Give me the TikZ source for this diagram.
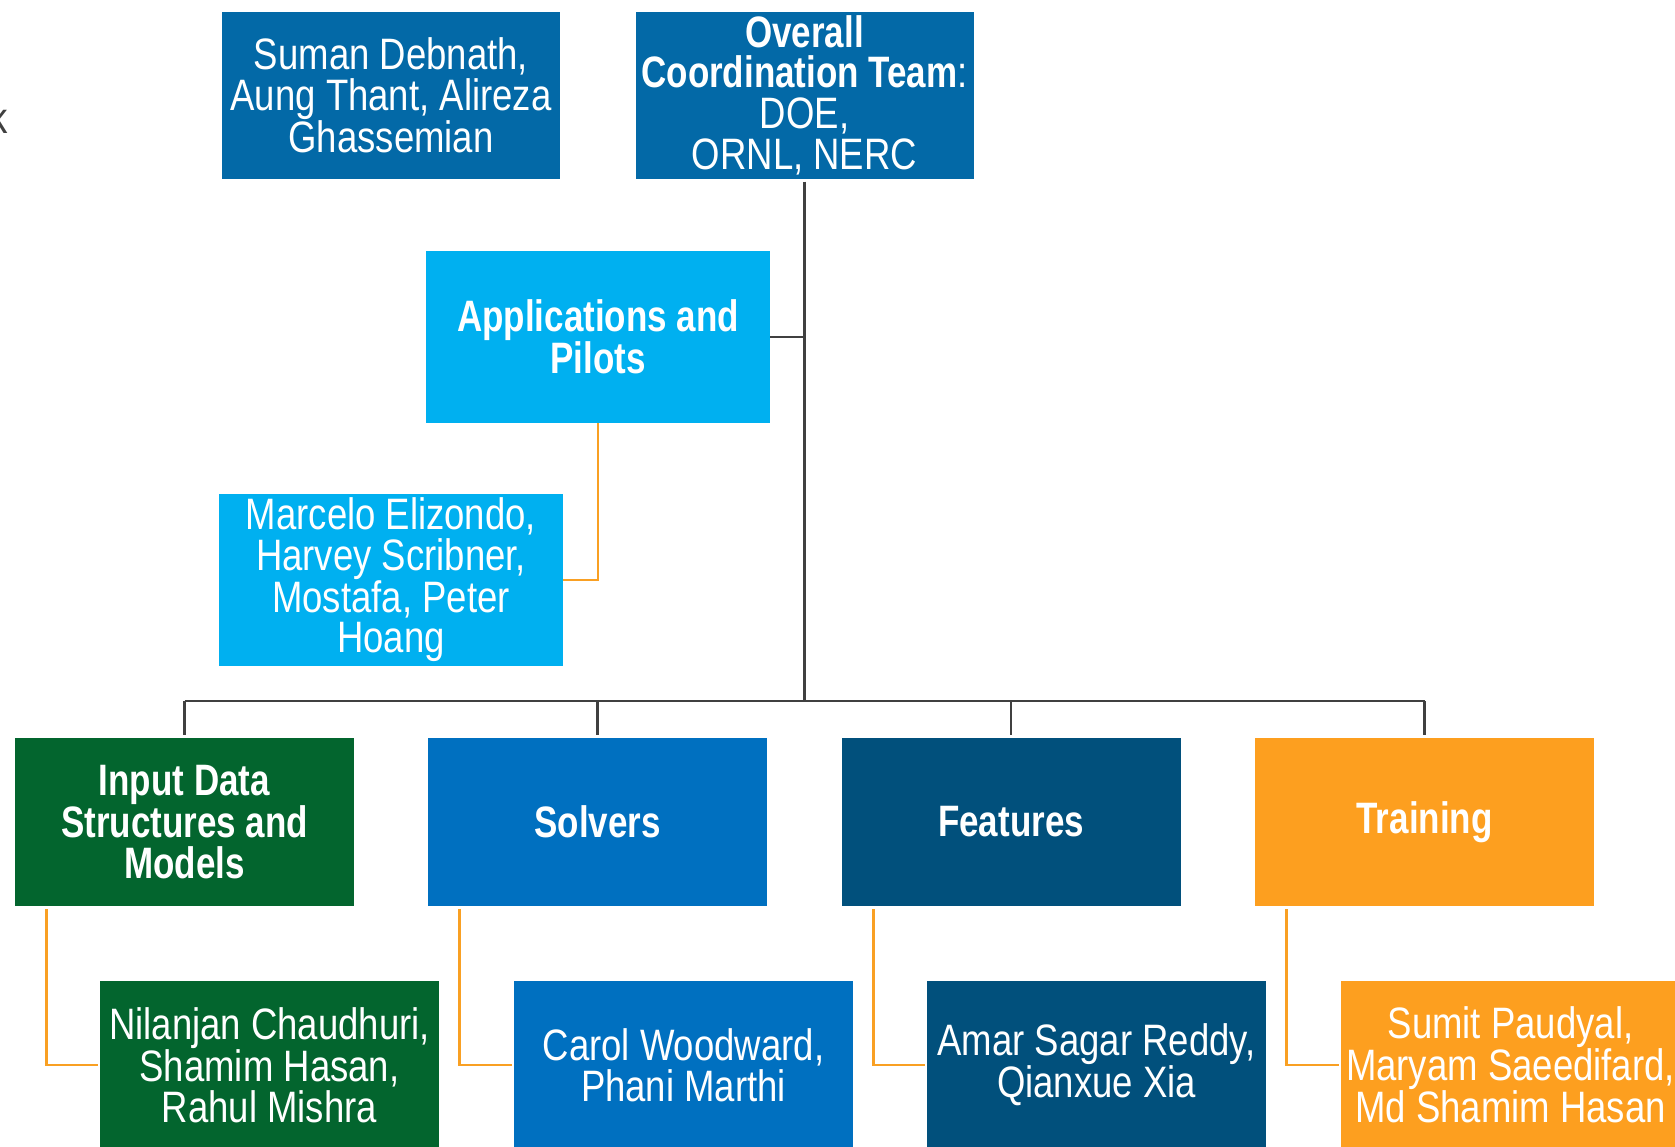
\documentclass[tikz,border=0pt]{standalone}
\usepackage{fontspec}
\setmainfont{Liberation Sans}[FakeStretch=0.83, BoldFeatures={FakeStretch=0.795}]
\definecolor{cTop}{HTML}{0369A7}
\definecolor{cApp}{HTML}{00B0F0}
\definecolor{cGreen}{HTML}{03652E}
\definecolor{cBlue}{HTML}{0070C0}
\definecolor{cNavy}{HTML}{01507C}
\definecolor{cOrange}{HTML}{FD9F1F}
\definecolor{cLine}{HTML}{404040}
\definecolor{cOLine}{HTML}{F9A023}
\begin{document}
\begin{tikzpicture}[x=1pt,y=-1pt,
  box/.style={rectangle, inner sep=0pt, text=white, align=center,
    font=\fontsize{44}{40.6}\selectfont},
  bigbox/.style={box, minimum width=344pt, minimum height=172pt},
  rowbox/.style={box, minimum width=339pt, minimum height=168pt},
  topbox/.style={box, minimum width=338pt, minimum height=167pt, fill=cTop},
  tree/.style={draw=cLine, line width=2.8pt},
  sub/.style={draw=cOLine, line width=2.8pt}]
\useasboundingbox (0,0) rectangle (1675,1146);
\clip (0,0) rectangle (1675,1146);
\node[anchor=base east, inner sep=0pt, text=cLine, font=\fontsize{44}{40.6}\selectfont] (kk) at (8,133) {k};
\node[topbox] (suman) at (391,95) {Suman Debnath,\\Aung Thant, Alireza\\Ghassemian};
\node[topbox] (overall) at (804.5,95) {\textbf{Overall}\\\textbf{Coordination Team}:\\DOE,\\ORNL, NERC};
\node[bigbox, fill=cApp] (app) at (598,337) {\textbf{Applications and}\\\textbf{Pilots}};
\node[bigbox, fill=cApp] (marcelo) at (391,580) {Marcelo Elizondo,\\Harvey Scribner,\\Mostafa, Peter\\Hoang};
\node[rowbox, fill=cGreen] (input) at (184.5,822) {\textbf{Input Data}\\\textbf{Structures and}\\\textbf{Models}};
\node[rowbox, fill=cBlue] (solvers) at (597.5,822) {\textbf{Solvers}};
\node[rowbox, fill=cNavy] (features) at (1011,822) {\textbf{Features}};
\node[rowbox, fill=cOrange] (training) at (1424.5,822) {\textbf{Training}};
\node[rowbox, fill=cGreen] (nil) at (269.5,1065) {Nilanjan Chaudhuri,\\Shamim Hasan,\\Rahul Mishra};
\node[rowbox, fill=cBlue] (carol) at (683.5,1065) {Carol Woodward,\\Phani Marthi};
\node[rowbox, fill=cNavy] (amar) at (1096.5,1065) {Amar Sagar Reddy,\\Qianxue Xia};
\node[rowbox, fill=cOrange] (sumit) at (1510.5,1065) {Sumit Paudyal,\\Maryam Saeedifard,\\Md Shamim Hasan};
\coordinate (bus) at (804,701);
\draw[tree] ([yshift=-3pt]overall.south) -- (overall.south |- bus);
\draw[tree] (app.east) -- (app.east -| overall.south);
\draw[tree] (input.north |- bus) -- (training.north |- bus);
\foreach \n in {input,solvers,features,training}
  \draw[tree, shorten >=3pt] (\n.north |- bus) -- (\n.north);
\draw[sub] (app.south) |- (marcelo.east);
\draw[sub, shorten >=2pt] ([xshift=32pt,yshift=-3pt]input.south west) |- (nil.west);
\draw[sub, shorten >=2pt] ([xshift=32pt,yshift=-3pt]solvers.south west) |- (carol.west);
\draw[sub, shorten >=2pt] ([xshift=32pt,yshift=-3pt]features.south west) |- (amar.west);
\draw[sub, shorten >=2pt] ([xshift=32pt,yshift=-3pt]training.south west) |- (sumit.west);
\end{tikzpicture}
\end{document}
